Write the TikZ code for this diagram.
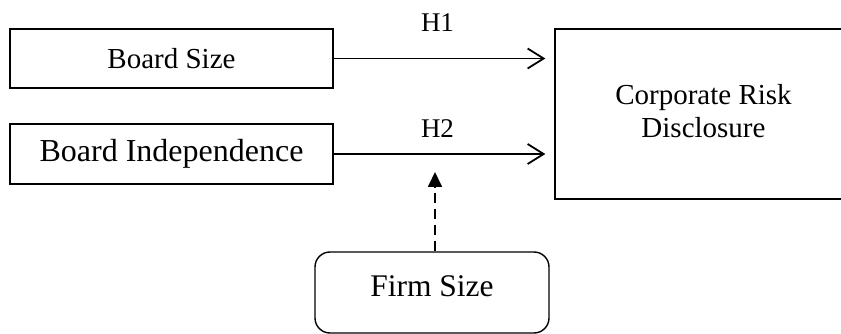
\documentclass[tikz,border=0pt]{standalone}
\usepackage{fontspec}
\setmainfont{Liberation Serif}
\usetikzlibrary{arrows.meta,calc}
\tikzset{
  box/.style={draw=black, line width=1.4pt, inner sep=0pt, minimum width=323pt, minimum height=59pt},
  conn/.style={line width=1.8pt, -{Straight Barb[length=16pt,width=20pt,line width=1.8pt]}, shorten >=9pt},
  modarrow/.style={line width=1.8pt, dash pattern=on 10pt off 6pt, -{Triangle[length=15pt,width=14pt]}},
  hlabel/.style={inner sep=0pt, font=\fontsize{27}{32}\selectfont}
}
\begin{document}
\begin{tikzpicture}[x=1pt,y=-1pt]
\useasboundingbox (0,0) rectangle (841,334);
\clip (0,0) rectangle (841,334);
\node[box, font=\fontsize{29}{35}\selectfont] (bs) at (171.5,58.5) {Board Size};
\node[box, minimum height=60pt, font=\fontsize{32}{38}\selectfont] (bi) at (171.5,154) {Board Independence\hspace{19pt}};
\node[box, minimum width=297pt, minimum height=170pt, font=\fontsize{29}{33}\selectfont] (crd) at (703.5,114) {\raisebox{5.5pt}{\begin{tabular}{@{}c@{}}Corporate Risk\\Disclosure\end{tabular}}};
\node[box, rounded corners=15pt, minimum width=234pt, minimum height=81pt, font=\fontsize{31.5}{38}\selectfont] (fs) at (432,292.5) {\raisebox{12pt}{Firm Size}};
\draw[conn] (bs.east) -- (bs.east -| crd.west);
\draw[conn] (bi.east) -- (bi.east -| crd.west);
\node[hlabel] (h1) at (437.5,22.5) {H1};
\node[hlabel] (h2) at (437.5,129) {H2};
\coordinate (m) at (435,172);
\draw[modarrow] (m |- fs.north) -- (m);
\end{tikzpicture}
\end{document}
